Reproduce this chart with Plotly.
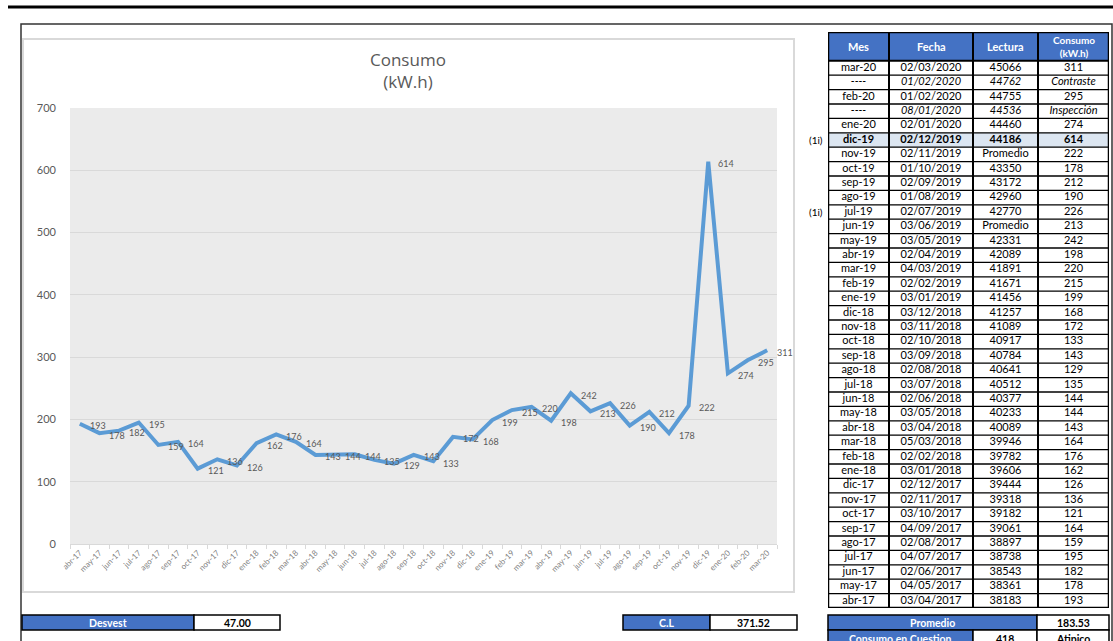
import plotly.graph_objects as go

W, H = 1113, 641

# ---------------- data ----------------
months = ["abr-17", "may-17", "jun-17", "jul-17", "ago-17", "sep-17", "oct-17", "nov-17", "dic-17",
          "ene-18", "feb-18", "mar-18", "abr-18", "may-18", "jun-18", "jul-18", "ago-18", "sep-18",
          "oct-18", "nov-18", "dic-18", "ene-19", "feb-19", "mar-19", "abr-19", "may-19", "jun-19",
          "jul-19", "ago-19", "sep-19", "oct-19", "nov-19", "dic-19", "ene-20", "feb-20", "mar-20"]
consumo = [193, 178, 182, 195, 159, 164, 121, 136, 126,
           162, 176, 164, 143, 144, 144, 135, 129, 143,
           133, 172, 168, 199, 215, 220, 198, 242, 213,
           226, 190, 212, 178, 222, 614, 274, 295, 311]

tabla_mes = ["mar-20", "----", "feb-20", "----", "ene-20", "dic-19", "nov-19", "oct-19", "sep-19",
             "ago-19", "jul-19", "jun-19", "may-19", "abr-19", "mar-19", "feb-19", "ene-19", "dic-18",
             "nov-18", "oct-18", "sep-18", "ago-18", "jul-18", "jun-18", "may-18", "abr-18", "mar-18",
             "feb-18", "ene-18", "dic-17", "nov-17", "oct-17", "sep-17", "ago-17", "jul-17", "jun-17",
             "may-17", "abr-17"]
tabla_fecha = ["02/03/2020", "01/02/2020", "01/02/2020", "08/01/2020", "02/01/2020", "02/12/2019",
               "02/11/2019", "01/10/2019", "02/09/2019", "01/08/2019", "02/07/2019", "03/06/2019",
               "03/05/2019", "02/04/2019", "04/03/2019", "02/02/2019", "03/01/2019", "03/12/2018",
               "03/11/2018", "02/10/2018", "03/09/2018", "02/08/2018", "03/07/2018", "02/06/2018",
               "03/05/2018", "03/04/2018", "05/03/2018", "02/02/2018", "03/01/2018", "02/12/2017",
               "02/11/2017", "03/10/2017", "04/09/2017", "02/08/2017", "04/07/2017", "02/06/2017",
               "04/05/2017", "03/04/2017"]
tabla_lectura = ["45066", "44762", "44755", "44536", "44460", "44186", "Promedio", "43350", "43172",
                 "42960", "42770", "Promedio", "42331", "42089", "41891", "41671", "41456", "41257",
                 "41089", "40917", "40784", "40641", "40512", "40377", "40233", "40089", "39946",
                 "39782", "39606", "39444", "39318", "39182", "39061", "38897", "38738", "38543",
                 "38361", "38183"]
tabla_consumo = ["311", "Contraste", "295", "Inspección", "274", "614", "222", "178", "212",
                 "190", "226", "213", "242", "198", "220", "215", "199", "168",
                 "172", "133", "143", "129", "135", "144", "144", "143", "164",
                 "176", "162", "126", "136", "121", "164", "159", "195", "182",
                 "178", "193"]
header = ["Mes", "Fecha", "Lectura", "Consumo<br>(kW.h)"]
header_sizes = [11, 11, 11, 10]
col_widths = [61, 84, 65, 71]
italic_rows = [1, 3]
bold_rows = [5]
nota_rows = [5, 10]
nota_text = "(1i)"

desvest = "47.00"
cl = "371.52"
promedio = "183.53"
consumo_cuestion = "418"
estado = "Atipico"

# ---------------- helpers ----------------
def px(x):
    return x / W

def py(y):
    return 1 - y / H

BLUE = "#4472c4"
GREY_TXT = "#595959"
FONT = "Lato"

fig = go.Figure()

shapes = []
annotations = []

# grey plot background for the chart
shapes.append(dict(type="rect", xref="paper", yref="paper", x0=px(21), x1=px(1112), y0=py(660), y1=py(24),
                   line=dict(color="#333333", width=1.5), layer="below"))
shapes.append(dict(type="rect", xref="paper", yref="paper", x0=px(23), x1=px(794), y0=py(592), y1=py(39),
                   line=dict(color="#d9d9d9", width=2), fillcolor="white", layer="below"))
shapes.append(dict(type="rect", xref="x domain", yref="y domain", x0=0, x1=1, y0=0, y1=1,
                   fillcolor="#ebebeb", line=dict(width=0), layer="below"))

# ---------------- line chart ----------------
fig.add_trace(go.Scatter(
    x=months, y=consumo, mode="lines",
    line=dict(color="#5b9bd5", width=4),
    hoverinfo="x+y", showlegend=False, xaxis="x", yaxis="y",
))
for m, v in zip(months, consumo):
    annotations.append(dict(x=m, y=v, xref="x", yref="y", text=str(v), showarrow=False,
                            xanchor="left", yanchor="middle", xshift=8, yshift=-2,
                            font=dict(family=FONT, size=9, color=GREY_TXT)))

# ---------------- table (own axes) ----------------
n_rows = len(tabla_mes)
edges = [0]
for w in col_widths:
    edges.append(edges[-1] + w)
centers = [(edges[i] + edges[i + 1]) / 2 for i in range(len(col_widths))]

def style(v, i):
    if i in italic_rows:
        return "<i>" + v + "</i>"
    if i in bold_rows:
        return "<b>" + v + "</b>"
    return v

shapes.append(dict(type="rect", xref="x2", yref="y2", x0=edges[0], x1=edges[-1], y0=-2, y1=0,
                   fillcolor=BLUE, line=dict(width=0), layer="below"))
for r in bold_rows:
    shapes.append(dict(type="rect", xref="x2", yref="y2", x0=edges[0], x1=edges[-1], y0=r, y1=r + 1,
                       fillcolor="#dce6f1", line=dict(width=0), layer="below"))
for r in range(0, n_rows):
    shapes.append(dict(type="line", xref="x2", yref="y2", x0=edges[0], x1=edges[-1], y0=r, y1=r,
                       line=dict(color="black", width=2 if r == 0 else 1.3)))
for e in edges[1:-1]:
    shapes.append(dict(type="line", xref="x2", yref="y2", x0=e, x1=e, y0=-2, y1=n_rows,
                       line=dict(color="black", width=2)))
shapes.append(dict(type="rect", xref="x2", yref="y2", x0=edges[0], x1=edges[-1], y0=-2, y1=n_rows,
                   line=dict(color="black", width=2.5)))

rows_y = [i + 0.5 for i in range(n_rows)]
for ci, col in enumerate([tabla_mes, tabla_fecha, tabla_lectura, tabla_consumo]):
    fig.add_trace(go.Scatter(
        x=[centers[ci]] * n_rows, y=rows_y, mode="text",
        text=[style(v, i) for i, v in enumerate(col)], textposition="middle center",
        textfont=dict(family=FONT, size=11, color="black"),
        hoverinfo="skip", showlegend=False, xaxis="x2", yaxis="y2", cliponaxis=False,
    ))
for ci, h in enumerate(header):
    annotations.append(dict(x=centers[ci], y=-1, xref="x2", yref="y2", text="<b>" + h + "</b>",
                            showarrow=False, xanchor="center", yanchor="middle",
                            font=dict(family=FONT, size=header_sizes[ci], color="white")))
for r in nota_rows:
    annotations.append(dict(x=0, y=r + 0.5, xref="x2", yref="y2", text=nota_text, showarrow=False,
                            xanchor="right", yanchor="middle", xshift=-3,
                            font=dict(family=FONT, size=10, color="black")))

# ---------------- frames ----------------
shapes.append(dict(type="line", xref="paper", yref="paper", x0=px(8), x1=px(1113), y0=py(7), y1=py(7),
                   line=dict(color="black", width=3)))

annotations.append(dict(text="Consumo<br>(kW.h)", xref="paper", yref="paper", x=px(408), y=py(71),
                        showarrow=False, font=dict(family="Open Sans", size=17, color=GREY_TXT),
                        xanchor="center", yanchor="middle"))

def box(x0, x1, y0, y1, label, blue):
    shapes.append(dict(type="rect", xref="paper", yref="paper", x0=px(x0), x1=px(x1), y0=py(y1), y1=py(y0),
                       line=dict(color="black", width=1.5), fillcolor=BLUE if blue else "white"))
    annotations.append(dict(text="<b>" + label + "</b>", xref="paper", yref="paper",
                            x=px((x0 + x1) / 2), y=py((y0 + y1) / 2), showarrow=False,
                            xanchor="center", yanchor="middle",
                            font=dict(family=FONT, size=10.5, color="white" if blue else "black")))

box(22, 194, 615, 630, "Desvest", True)
box(194, 280, 615, 630, desvest, False)
box(623, 710, 615, 630, "C.L", True)
box(710, 797, 615, 630, cl, False)
box(828, 1037, 615, 630, "Promedio", True)
box(1037, 1109, 615, 630, promedio, False)
box(828, 973, 630, 648, "Consumo en Cuestion", True)
box(973, 1037, 630, 648, consumo_cuestion, False)
box(1037, 1109, 630, 648, estado, False)

fig.update_layout(
    width=W, height=H, margin=dict(l=0, r=0, t=0, b=0, autoexpand=False),
    paper_bgcolor="white", plot_bgcolor="rgba(0,0,0,0)",
    shapes=shapes, annotations=annotations,
    xaxis=dict(domain=[px(70), px(777)], type="category", range=[-0.5, len(months) - 0.5],
               tickangle=-45, tickfont=dict(family=FONT, size=8, color="#7f7f7f"),
               ticks="outside", ticklen=4, tickcolor="#d9d9d9", tickson="boundaries",
               showline=True, linecolor="#d9d9d9", showgrid=False, zeroline=False,
               fixedrange=True, automargin=False, anchor="y"),
    yaxis=dict(domain=[py(544), py(108)], range=[0, 700], dtick=100,
               tickfont=dict(family=FONT, size=11, color=GREY_TXT),
               gridcolor="#d9d9d9", gridwidth=1, zeroline=False, ticklabelstandoff=13,
               fixedrange=True, automargin=False, anchor="x"),
    xaxis2=dict(domain=[px(828), px(1109)], range=[0, sum(col_widths)], visible=False,
                fixedrange=True, anchor="y2", automargin=False),
    yaxis2=dict(domain=[py(608), py(32)], range=[n_rows, -2], visible=False,
                fixedrange=True, anchor="x2", automargin=False),
)

fig.write_html("out.html")
